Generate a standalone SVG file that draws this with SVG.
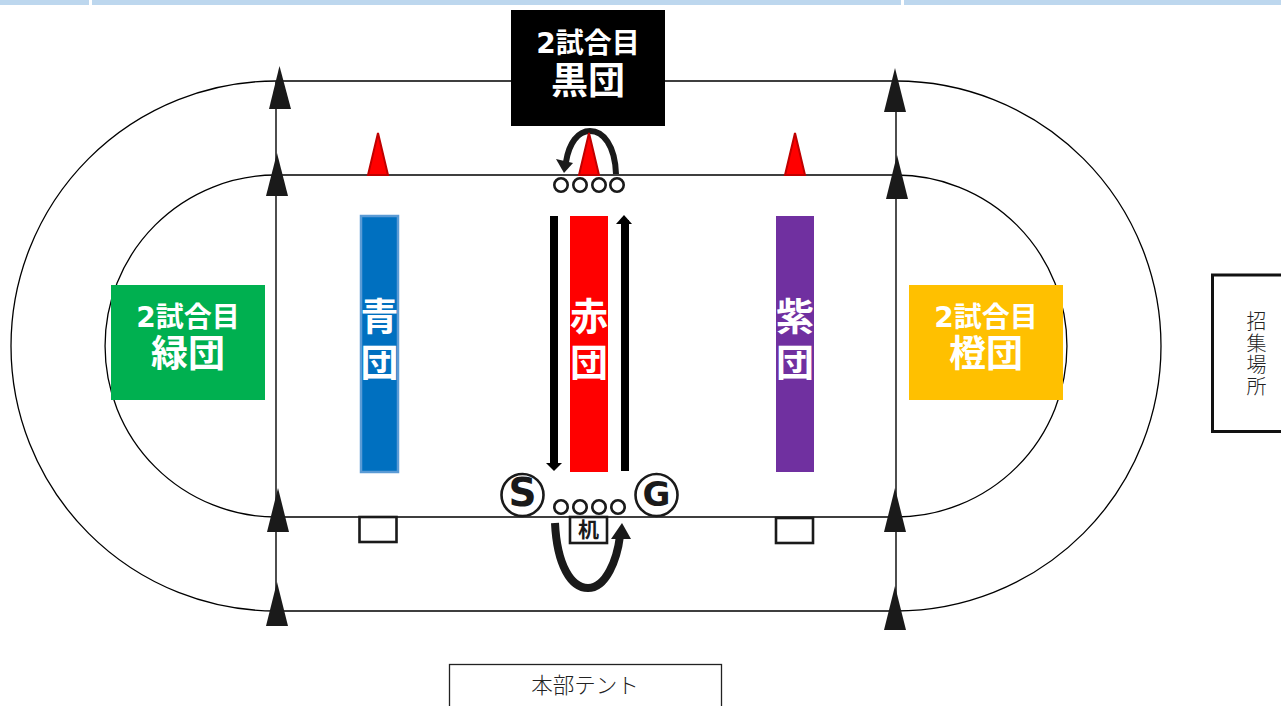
<svg xmlns="http://www.w3.org/2000/svg" width="1281" height="706" viewBox="0 0 1281 706">
<style>
text{font-family:"DejaVu Sans","Noto Sans CJK JP",sans-serif;text-anchor:middle}
.b{font-weight:700;fill:#fff}
.l{font-family:"Noto Sans CJK JP",sans-serif;font-weight:300;fill:#222}
.t{fill:none;stroke:#000;stroke-width:1.3}
.v{fill:none;stroke:#222;stroke-width:1.6}
.ar{fill:#1a1a1a}
.cone{fill:#f00;stroke:#c00000;stroke-width:2}
.c{fill:#fff;stroke:#1a1a1a;stroke-width:2.6}
.box{fill:#fff;stroke:#1a1a1a;stroke-width:2.6}
.curve{fill:none;stroke:#1a1a1a}
</style>
<rect x="0" y="0" width="89" height="5" fill="#bdd7ee"/>
<rect x="92" y="0" width="809" height="5" fill="#bdd7ee"/>
<rect x="904" y="0" width="377" height="5" fill="#bdd7ee"/>
<g id="connectors">
<path class="t" d="M276 81H896A265 265 0 0 1 896 611H276A265 265 0 0 1 276 81Z"/>
<path class="t" d="M276 175H896A171 171 0 0 1 896 517H276A171 171 0 0 1 276 175Z"/>
<path class="v" d="M276 81V611M896 81V611"/>
<polygon class="ar" points="279.500,66 269,109 291,109"/>
<polygon class="ar" points="277,153 266,196 288,196"/>
<polygon class="ar" points="278,488 267,532 289,532"/>
<polygon class="ar" points="277,582 266,626 288,626"/>
<polygon class="ar" points="895,68 884,112 906,112"/>
<polygon class="ar" points="897,155 886,199 908,199"/>
<polygon class="ar" points="895,488 884,532 906,532"/>
<polygon class="ar" points="895,586 884,630 906,630"/>
<path class="curve" stroke-width="6" d="M616 174C615 145 603 131 590 131C578 131 569 143 566 162"/>
<polygon class="ar" points="564,173 556,159 573,163"/>
<path class="curve" stroke-width="8" d="M555 523C557 565 571 588 588 588C606 588 617 560 620 536"/>
<polygon class="ar" points="622,523 611,539 631,539"/>
<rect x="550" y="216" width="8" height="250" fill="#000"/>
<polygon points="546,463 562,463 554,471" fill="#000"/>
<rect x="621" y="220" width="8" height="251" fill="#000"/>
<polygon points="616,224 632,224 624,215" fill="#000"/>
</g>
<g id="cones">
<polygon class="cone" points="378,133 368,175 388,175"/>
<polygon class="cone" points="589,133 579,175 599,175"/>
<polygon class="cone" points="795,133 785,175 805,175"/>
</g>
<g id="top-circles">
<circle class="c" cx="561" cy="185" r="6.700"/><circle class="c" cx="580" cy="185" r="6.700"/><circle class="c" cx="599" cy="185" r="6.700"/><circle class="c" cx="617" cy="185" r="6.700"/>
</g>
<g id="bottom-circles">
<circle class="c" cx="561" cy="507" r="6.700"/><circle class="c" cx="580" cy="507" r="6.700"/><circle class="c" cx="599" cy="507" r="6.700"/><circle class="c" cx="618" cy="507" r="6.700"/>
</g>
<g id="black"><rect x="511" y="10" width="154" height="116" fill="#000"/><text class="b" x="588" y="53" font-size="28">2試合目</text><text class="b" x="588" y="94" font-size="37">黒団</text></g>
<g id="green"><rect x="111" y="285" width="154" height="115" fill="#00b050"/><text class="b" x="188" y="327" font-size="28">2試合目</text><text class="b" x="188" y="367" font-size="37">緑団</text></g>
<g id="orange"><rect x="909" y="285" width="154" height="115" fill="#ffc000"/><text class="b" x="986" y="327" font-size="28">2試合目</text><text class="b" x="986" y="367" font-size="37">橙団</text></g>
<g id="blue"><rect x="361" y="216" width="37" height="256" fill="#0070c0" stroke="#5b9bd5" stroke-width="2.500"/><text class="b" x="379.500" y="330" font-size="38">青</text><text class="b" x="379.500" y="376" font-size="38">団</text></g>
<g id="red"><rect x="570" y="216" width="38" height="256" fill="#f00"/><text class="b" x="589" y="330" font-size="38">赤</text><text class="b" x="589" y="376" font-size="38">団</text></g>
<g id="purple"><rect x="776" y="216" width="38" height="256" fill="#7030a0"/><text class="b" x="795" y="330" font-size="38">紫</text><text class="b" x="795" y="376" font-size="38">団</text></g>
<g id="S"><circle cx="522.500" cy="495" r="21" fill="#fff" stroke="#1a1a1a" stroke-width="2.600"/><text x="522.500" y="505.500" font-size="39" font-weight="700" fill="#1a1a1a">S</text></g>
<g id="G"><circle cx="656.500" cy="495" r="21" fill="#fff" stroke="#1a1a1a" stroke-width="2.600"/><text x="656.500" y="505.500" font-size="34" font-weight="700" fill="#1a1a1a">G</text></g>
<g id="desk"><rect class="box" x="570" y="517" width="37" height="26"/><text x="588.500" y="537" font-size="21" font-weight="700" fill="#1a1a1a">机</text></g>
<g id="desk-left"><rect class="box" x="359.500" y="517" width="37" height="25"/></g>
<g id="desk-right"><rect class="box" x="776" y="518" width="37" height="25"/></g>
<g id="muster"><rect x="1212.500" y="275" width="80" height="156.500" fill="#fff" stroke="#111" stroke-width="3"/><text class="l" x="1256.500" y="329" font-size="20">招</text><text class="l" x="1256.500" y="351" font-size="20">集</text><text class="l" x="1256.500" y="372" font-size="20">場</text><text class="l" x="1256.500" y="394" font-size="20">所</text></g>
<g id="tent"><rect x="449.500" y="664.500" width="272" height="60" fill="#fff" stroke="#222" stroke-width="1.300"/><text class="l" x="585" y="693" font-size="21.500">本部テント</text></g>
</svg>
